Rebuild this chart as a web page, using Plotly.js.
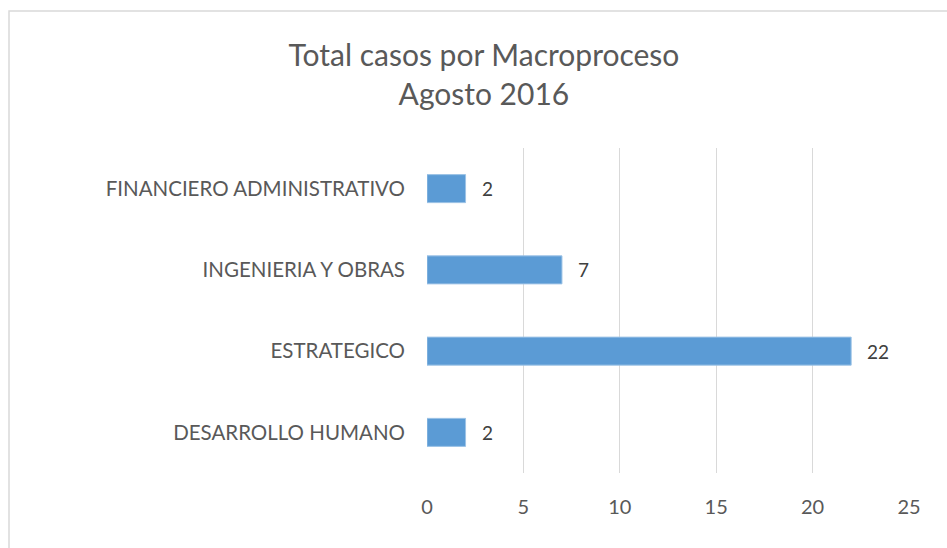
<!DOCTYPE html>
<html>
<head>
<meta charset="utf-8">
<script src="https://cdn.plot.ly/plotly-3.0.1.min.js"></script>
<style>html,body{margin:0;padding:0;background:#fff;}#chart{width:947px;height:548px;}</style>
</head>
<body>
<div id="chart"></div>
<script>
const categories = ["DESARROLLO HUMANO", "ESTRATEGICO", "INGENIERIA Y OBRAS", "FINANCIERO ADMINISTRATIVO"];
const values = [2, 22, 7, 2];
const xTicks = [0, 5, 10, 15, 20, 25];
const titleText = "Total casos por Macroproceso<br>Agosto 2016";

const FONT = "Lato, 'Open Sans', sans-serif";

const trace = {
  type: "bar",
  orientation: "h",
  y: categories,
  x: values,
  marker: {color: "#5B9BD5", line: {color: "#9DC3E6", width: 1}},
  hoverinfo: "x+y"
};

const annotations = values.map((v, i) => ({
  x: v, y: categories[i], xref: "x", yref: "y",
  text: String(v), showarrow: false, xanchor: "left", yanchor: "middle",
  xshift: 14, font: {family: FONT, size: 19, color: "#404040"}
}));

const layout = {
  width: 947, height: 548,
  margin: {l: 427, r: 38, t: 148, b: 75, pad: 0},
  paper_bgcolor: "#ffffff", plot_bgcolor: "#ffffff",
  bargap: 0.655,
  showlegend: false,
  title: {
    text: titleText,
    x: 0.511, xref: "container", xanchor: "center",
    y: 0.88, yref: "container", yanchor: "middle",
    font: {family: FONT, size: 30, color: "#595959"}
  },
  xaxis: {
    range: [0, 25], tickvals: xTicks, ticktext: xTicks.map(String),
    showgrid: true, gridcolor: "#d9d9d9", gridwidth: 1.3,
    zeroline: false, showline: false, ticks: "",
    ticklabelstandoff: 20,
    tickfont: {family: FONT, size: 20, color: "#595959"},
    fixedrange: true
  },
  yaxis: {
    type: "category", categoryorder: "array", categoryarray: categories,
    showgrid: false, zeroline: false, showline: false, ticks: "",
    ticklabelstandoff: 21,
    tickfont: {family: FONT, size: 20.5, color: "#595959"},
    fixedrange: true
  },
  annotations: annotations,
  shapes: [{
    type: "path", xref: "paper", yref: "paper",
    path: "M -0.8672 -0.3 L -0.8672 1.4215 L 1.2 1.4215",
    line: {color: "#d9d9d9", width: 1.5}, layer: "below"
  }]
};

Plotly.newPlot("chart", [trace], layout, {displayModeBar: false, staticPlot: true});
</script>
</body>
</html>
